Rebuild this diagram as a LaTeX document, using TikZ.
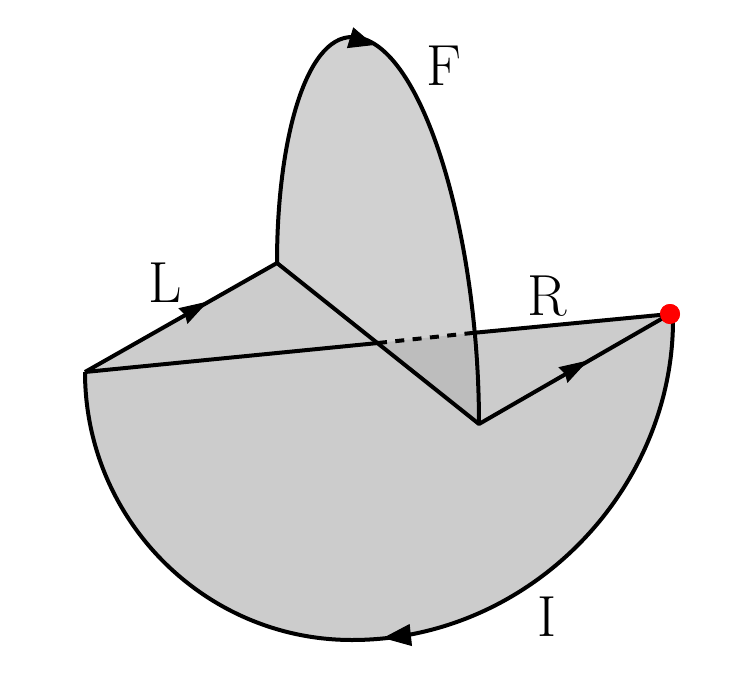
\documentclass[tikz,border=0pt]{standalone}
\usetikzlibrary{arrows.meta, positioning}

\begin{document}
\begin{tikzpicture}[
  x=0.02cm, y=-0.02cm,
  edge/.style={draw, line width=0.08cm, line join=round},
  label/.style={font=\fontsize{33}{40}\selectfont, inner sep=0pt},
  bigtip/.style={-{Triangle[length=0.5cm, width=0.43cm]}, line width=0.02cm},
  widetip/.style={-{Triangle[length=0.56cm, width=0.44cm]}, line width=0.02cm},
  smalltip/.style={-{Stealth[length=0.58cm, width=0.36cm, inset=0.05cm]}, line width=0.02cm},
  dot/.style={circle, fill=red, minimum size=0.4cm, inner sep=0pt}
]
\useasboundingbox (0,0) rectangle (748,680);

% Corners of the two pieces
\coordinate (left) at (85,372);
\coordinate (back) at (277,263);
\coordinate (front) at (479,424);
\coordinate (peak) at (352,37);
\coordinate (bottom) at (352,640);
\coordinate (cross) at (378,343);
\coordinate (hidden) at (472,333);

% Fills
\fill[black!18] (back) .. controls (277,142) and (305,37) .. (peak)
  .. controls (420,37) and (479,230) .. (front) -- cycle;
\fill[black!20] (left) -- (back) -- (cross) -- cycle;
\fill[black!20] (left) .. controls (85,520) and (205,640) .. (bottom)
  .. controls (530,640) and (673,490) .. (673,320) -- (670,314) -- cycle;
\fill[black!26] (cross) -- (hidden) -- (front) -- cycle;

% Red point
\node[dot] (point) at (670,314) {};

% Outline
\draw[edge] (back) .. controls (277,142) and (305,37) .. (peak)
  .. controls (420,37) and (479,230) .. (front);
\draw[edge] (left) -- (back) -- (front) -- (point.center);
\draw[edge] (left) .. controls (85,520) and (205,640) .. (bottom)
  .. controls (530,640) and (673,490) .. (673,320);
\draw[edge] (left) -- (cross);
\draw[edge, dash pattern=on 0.18cm off 0.168cm] (cross) -- (hidden);
\draw[edge] (hidden) -- (point.center);

% Red point again, over the lines
\node[dot] at (point) {};

% Arrow heads
\coordinate (peakfrom) at (351,38);
\coordinate (peakto) at (374,45);
\coordinate (bottomfrom) at (411,635);
\coordinate (bottomto) at (383,638);
\coordinate (lfrom) at (183,316);
\coordinate (lto) at (208,301.5);
\coordinate (rfrom) at (563,375);
\coordinate (rto) at (588,360.5);
\draw[bigtip] (peakfrom) -- (peakto);
\draw[widetip] (bottomfrom) -- (bottomto);
\draw[smalltip] (lfrom) -- (lto);
\draw[smalltip] (rfrom) -- (rto);

% Labels
\node[label] (labelF) at (444,66) {F};
\node[label] (labelL) at (165,283) {L};
\node[label] (labelR) at (547,296) {R};
\node[label] (labelI) at (547,617) {I};

\end{tikzpicture}
\end{document}
